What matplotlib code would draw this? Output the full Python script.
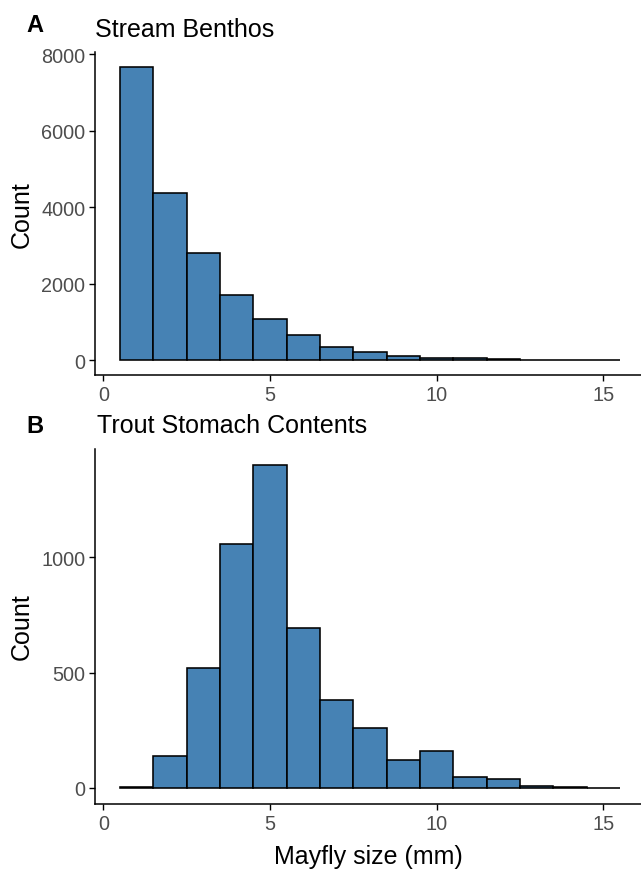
#!/usr/bin/env python3
"""Mayfly size histograms: stream benthos vs trout stomach contents."""

import numpy as np
import matplotlib
matplotlib.use('Agg')
import matplotlib.pyplot as plt

plt.rcParams['font.family'] = ['Liberation Sans', 'DejaVu Sans']

# bin centres (mm), bins are 1 mm wide
sizes = np.arange(1, 16)
benthos_counts = [7680, 4380, 2810, 1700, 1090, 670, 350, 220,
                  105, 70, 52, 26, 10, 5, 3]
stomach_counts = [5, 139, 518, 1057, 1399, 695, 380, 260,
                  122, 161, 48, 40, 9, 3, 1]

x_ticks = [0, 5, 10, 15]
benthos_yticks = [0, 2000, 4000, 6000, 8000]
stomach_yticks = [0, 500, 1000]

W, H = 641, 870
fill = '#4682B4'
tick_grey = '#4D4D4D'

fig = plt.figure(figsize=(W / 100, H / 100), dpi=100)
ax_a = fig.add_axes([95 / W, 1 - 376 / H, 546 / W, 323 / H])
ax_b = fig.add_axes([95 / W, 1 - 805 / H, 546 / W, 355 / H])


def hist_panel(ax, counts, yticks):
    ax.bar(sizes, counts, width=1.0, color=fill, edgecolor='black',
           linewidth=1.15)
    top = max(counts)
    ax.set_ylim(-0.05 * top, 1.05 * top)
    ax.set_xlim(-0.25, 16.13)
    ax.set_xticks(x_ticks)
    ax.set_yticks(yticks)
    for side in ['top', 'right']:
        ax.spines[side].set_visible(False)
    for side in ['left', 'bottom']:
        ax.spines[side].set_linewidth(1.1)
    ax.tick_params(length=4, width=1.0, labelsize=14.3,
                   labelcolor=tick_grey, pad=3)


hist_panel(ax_a, benthos_counts, benthos_yticks)
hist_panel(ax_b, stomach_counts, stomach_yticks)

# panel letters and titles
fig.text(26 / W, 1 - 32 / H, 'A', fontsize=17, fontweight='bold',
         va='baseline')
fig.text(95 / W, 1 - 37 / H, 'Stream Benthos', fontsize=18,
         va='baseline')
fig.text(26 / W, 1 - 433 / H, 'B', fontsize=17, fontweight='bold',
         va='baseline')
fig.text(97 / W, 1 - 433 / H, 'Trout Stomach Contents', fontsize=18,
         va='baseline')

# axis titles
fig.text(22 / W, 1 - 215 / H, 'Count', fontsize=18, rotation=90,
         ha='center', va='center')
fig.text(22 / W, 1 - 627 / H, 'Count', fontsize=18, rotation=90,
         ha='center', va='center')
fig.text(368 / W, 1 - 864 / H, 'Mayfly size (mm)', fontsize=18,
         ha='center', va='baseline')

fig.savefig('out.png', dpi=100)
